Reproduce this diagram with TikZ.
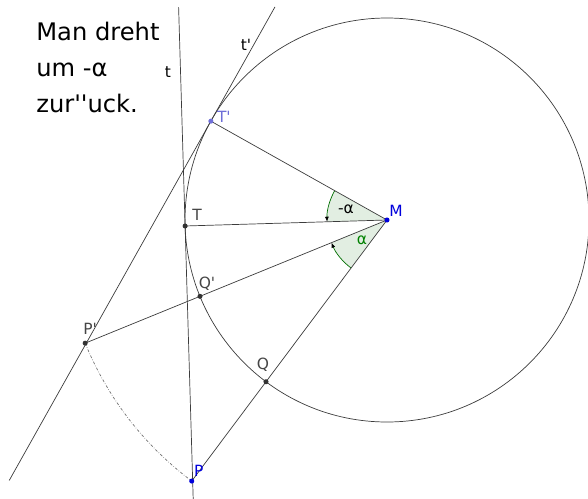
\documentclass[tikz,border=0pt]{standalone}
\usepackage{fontspec}
\setmainfont{DejaVu Sans}[Ligatures=TeXOff]
\usepackage{xcolor}
\usetikzlibrary{arrows.meta,calc}
\definecolor{linegray}{RGB}{60,60,60}
\definecolor{ptgray}{RGB}{50,50,50}
\definecolor{lblgray}{RGB}{70,70,70}
\definecolor{tpcol}{RGB}{110,110,215}
\definecolor{mblue}{RGB}{0,0,220}
\definecolor{angfillc}{RGB}{226,238,226}
\definecolor{angarcc}{RGB}{0,110,0}
\definecolor{alphagreen}{RGB}{0,128,0}

\begin{document}
\begin{tikzpicture}[
        x=0.25mm, y=0.25mm,
        line width=0.5pt,
        pt/.style={circle, fill=ptgray, inner sep=0pt, minimum size=3.6pt},
        lbl/.style={font=\fontsize{11}{13}\selectfont, text=lblgray, inner sep=0pt},
        seg/.style={draw=linegray},
        angfill/.style={fill=angfillc},
        angarc/.style={draw=angarcc, -{Latex[length=3.6pt,width=2.8pt,black]}},
        arcpath/.style={draw=gray!90!black, dash pattern=on 2pt off 1.2pt on 0.4pt off 1.2pt}
    ]
    \useasboundingbox (0,0) rectangle (588,498);

    % construction points
    \coordinate (M) at (387,278);
    \coordinate (T) at ($(M)+(181.7:202)$);
    \coordinate (T') at ($(M)+(150.7:202)$);
    \coordinate (P) at ($(M)+(233.2:326)$);
    \coordinate (P') at ($(M)+(202.2:326)$);
    \coordinate (Q) at ($(M)+(233.2:202)$);
    \coordinate (Q') at ($(M)+(202.2:202)$);
    \coordinate (ttop) at ($(T)+(91.7:219)$);
    \coordinate (tbot) at ($(T)+(271.7:274)$);
    \coordinate (tptop) at ($(T')+(60.7:131)$);
    \coordinate (tpbot) at ($(T')+(240.7:412)$);

    % angle sectors
    \fill[angfill] (M) -- ($(M)+(150.7:60)$) arc[start angle=150.7, end angle=181.7, radius=60] -- cycle;
    \fill[angfill] (M) -- ($(M)+(233.2:60)$) arc[start angle=233.2, end angle=202.2, radius=60] -- cycle;
    \draw[angarc] ($(M)+(150.7:60)$) arc[start angle=150.7, end angle=181.7, radius=60];
    \draw[angarc] ($(M)+(233.2:60)$) arc[start angle=233.2, end angle=202.2, radius=60];

    \draw[seg] (M) circle[radius=202];
    \draw[seg] (ttop) -- (tbot);
    \draw[seg] (tptop) -- (tpbot);
    \draw[seg] (M) -- (T');
    \draw[seg] (M) -- (T);
    \draw[seg] (M) -- (P');
    \draw[seg] (M) -- (P);
    \draw[arcpath] (P') arc[start angle=202.2, end angle=233.2, radius=326];

    \node[pt, fill=tpcol] (Tpdot) at (T') {};
    \node[pt] (Tdot) at (T) {};
    \node[pt, fill=mblue] (Mdot) at (M) {};
    \node[pt] (Qpdot) at (Q') {};
    \node[pt] (Ppdot) at (P') {};
    \node[pt] (Qdot) at (Q) {};
    \node[pt, fill=mblue] (Pdot) at (P) {};

    \node[lbl, text=tpcol] (Tplab) at ($(T')+(13,4)$) {T'};
    \node[lbl] (Tlab) at ($(T)+(12,11)$) {T};
    \node[lbl, text=mblue] (Mlab) at ($(M)+(9,9)$) {M};
    \node[lbl] (Qplab) at ($(Q')+(7,13)$) {Q'};
    \node[lbl] (Pplab) at ($(P')+(5,14)$) {P'};
    \node[lbl] (Qlab) at ($(Q)+(-3,17)$) {Q};
    \node[lbl, text=mblue] (Plab) at ($(P)+(7,10)$) {P};
    \node[lbl, text=black] (tlab) at (168,426) {t};
    \node[lbl, text=black] (tplab) at (246,453) {t'};
    \node[lbl, text=black] (malab) at (346,289) {-α};
    \node[lbl, text=alphagreen] (alab) at (362,258) {α};

    \node[anchor=north west, align=left, inner sep=0pt, font=\fontsize{17.2}{25.5}\selectfont] (note) at (36,476) {Man dreht\\um -α\\zur''uck.};
\end{tikzpicture}
\end{document}
